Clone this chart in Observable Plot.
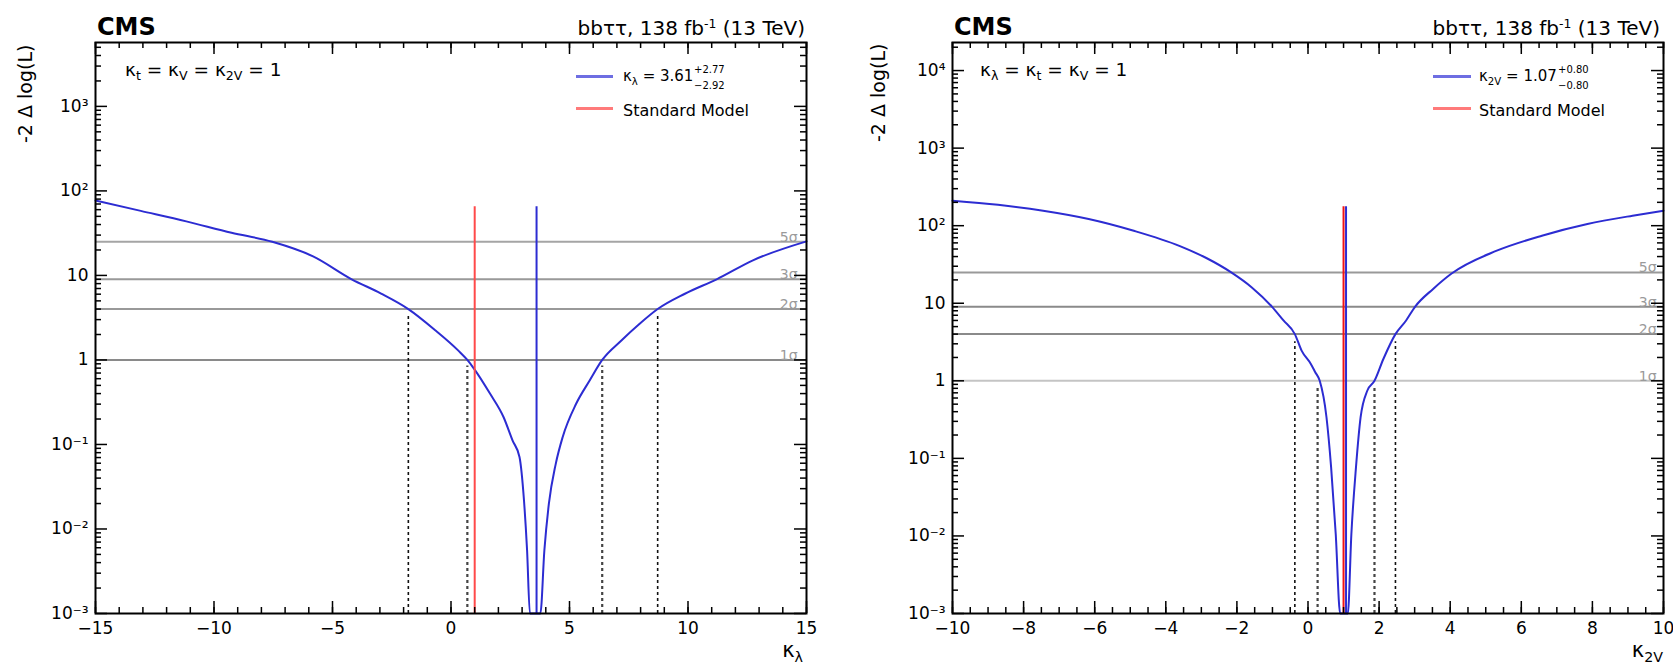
<!DOCTYPE html>
<html><head><meta charset="utf-8">
<script src="https://cdn.jsdelivr.net/npm/d3@7"></script>
<script src="https://cdn.jsdelivr.net/npm/@observablehq/plot@0.6"></script>
<style>
body{margin:0;background:#fff;}
#wrap{position:relative;width:1673px;height:669px;overflow:hidden;background:#fff;font-family:"DejaVu Sans",sans-serif;}
.panel{position:absolute;top:0;}
.ann{position:absolute;white-space:nowrap;color:#000;line-height:1;}
.lo{font-size:0.68em;position:relative;top:0.32em;}
.hi{font-size:0.62em;position:relative;top:-0.6em;}
.swatch{position:absolute;height:3px;}
</style></head>
<body><div id="wrap"></div>
<script>
// ---------- data ----------
const sigmaLevels = [1, 4, 9, 25];
const sigmaLabels = ["1σ", "2σ", "3σ", "5σ"];

// kappa_lambda scan
const klX = [-15, -13.09, -11.17, -9.26, -7.54, -5.82, -4.19, -2.95, -1.80, -0.65, 0.31, 0.69, 0.975, 1.645, 2.22, 2.60, 2.89, 3.08, 3.21, 3.33, 3.61, 3.77, 3.94, 4.13, 4.42, 4.71, 5.28, 5.85, 6.38, 7.19, 7.96, 8.72, 9.87, 11.21, 12.74, 15];
const klY = [77, 58, 43.6, 32, 25, 16.8, 9, 6.1, 4, 2.23, 1.29, 1.0, 0.785, 0.40, 0.21, 0.111, 0.071, 0.0217, 0.0056, 0.001, 0.00001, 0.001, 0.0056, 0.0199, 0.059, 0.122, 0.303, 0.571, 1.0, 1.70, 2.68, 4.0, 6.07, 9.0, 15.1, 25.3];
const klTicks = [-15, -10, -5, 0, 5, 10, 15];
const klTickLabels = ["−15", "−10", "−5", "0", "5", "10", "15"];
const klBestFit = 3.61, klSM = 1;
const klOneSigma = [0.69, 6.38], klTwoSigma = [-1.80, 8.72];

// kappa_2V scan
const k2vX = [-10, -8.72, -7.45, -6.17, -4.90, -3.62, -2.86, -2.16, -1.58, -1.01, -0.69, -0.37, -0.18, 0.08, 0.20, 0.33, 0.52, 0.65, 0.78, 0.905, 1.07, 1.12, 1.22, 1.35, 1.48, 1.67, 1.87, 2.12, 2.46, 2.76, 3.01, 3.52, 4.03, 5.31, 6.58, 7.86, 9.13, 10];
const k2vY = [210, 186, 156, 122, 86, 55, 38.3, 25, 16, 9, 6.0, 4.0, 2.45, 1.65, 1.3, 1.0, 0.339, 0.077, 0.0106, 0.001, 0.00001, 0.001, 0.0106, 0.077, 0.339, 0.75, 1.0, 1.91, 4.0, 6.0, 9.0, 15.3, 24, 47.6, 74.3, 105, 134.5, 156];
const k2vTicks = [-10, -8, -6, -4, -2, 0, 2, 4, 6, 8, 10];
const k2vTickLabels = ["−10", "−8", "−6", "−4", "−2", "0", "2", "4", "6", "8", "10"];
const k2vBestFit = 1.07, k2vSM = 1;
const k2vOneSigma = [0.27, 1.87], k2vTwoSigma = [-0.37, 2.46];

// y axes
const yTicksL = [1e-3, 1e-2, 1e-1, 1, 10, 100, 1000];
const yLabelsL = ["10⁻³", "10⁻²", "10⁻¹", "1", "10", "10²", "10³"];
const yTicksR = [1e-3, 1e-2, 1e-1, 1, 10, 100, 1000, 10000];
const yLabelsR = ["10⁻³", "10⁻²", "10⁻¹", "1", "10", "10²", "10³", "10⁴"];

// ---------- drawing ----------
const BLUE = "#2c2cd2";
const H = 669, MT = 42, MB = 56;

// ROOT-style inward ticks: lengths in pixels converted to data units through the scale extents
function tickMarks(o) {
  const fh = H - MT - MB, fw = o.width - o.marginLeft - o.marginRight;
  const [yMin, yMax] = o.yDomain, [xMin, xMax] = o.xDomain;
  const decPx = fh / Math.log10(yMax / yMin);
  const yUp = px => yMin * Math.pow(10, px / decPx);
  const yDown = px => yMax / Math.pow(10, px / decPx);
  const xPerPx = (xMax - xMin) / fw;
  const yMinor = [];
  o.yTicks.forEach(d => { for (let m = 2; m <= 9; m++) if (d * m < yMax) yMinor.push(d * m); });
  const xMinor = d3.range(xMin, xMax + 1e-9, o.xMinorStep);
  const tk = {stroke: "#000", strokeWidth: 1.5};
  return [
    Plot.ruleX(o.xTicks, {x: d => d, y1: yMin, y2: yUp(12), ...tk}),
    Plot.ruleX(xMinor, {x: d => d, y1: yMin, y2: yUp(6), ...tk}),
    Plot.ruleX(o.xTicks, {x: d => d, y1: yDown(12), y2: yMax, ...tk}),
    Plot.ruleX(xMinor, {x: d => d, y1: yDown(6), y2: yMax, ...tk}),
    Plot.ruleY(o.yTicks, {y: d => d, x1: xMin, x2: xMin + 12 * xPerPx, ...tk}),
    Plot.ruleY(yMinor, {y: d => d, x1: xMin, x2: xMin + 6 * xPerPx, ...tk}),
    Plot.ruleY(o.yTicks, {y: d => d, x1: xMax - 12 * xPerPx, x2: xMax, ...tk}),
    Plot.ruleY(yMinor, {y: d => d, x1: xMax - 6 * xPerPx, x2: xMax, ...tk})
  ];
}

function panel(o) {
  const rows = o.xs.map((x, i) => ({x, y: o.ys[i]}));
  const y0 = o.yDomain[0];
  const fmt = (ticks, labels) => d => labels[ticks.indexOf(d)];
  return Plot.plot({
    width: o.width, height: H,
    marginLeft: o.marginLeft, marginRight: o.marginRight, marginTop: MT, marginBottom: MB,
    style: {fontFamily: "'DejaVu Sans', sans-serif", fontSize: "17px", color: "#000", background: "transparent", overflow: "visible"},
    x: {domain: o.xDomain, label: null},
    y: {type: "log", domain: o.yDomain, label: null, clamp: true},
    marks: [
      Plot.ruleY(sigmaLevels, {y: d => d, stroke: (d, i) => o.sigmaStroke[i], strokeWidth: 2}),
      Plot.text(sigmaLevels, {y: d => d, text: (d, i) => sigmaLabels[i], frameAnchor: "right", textAnchor: "end", lineAnchor: "bottom", dx: o.sigmaDx, fill: "#9a9a9a", fontSize: 14}),
      Plot.ruleX(o.twoSigma, {x: d => d, y1: y0, y2: o.twoSigmaTop, stroke: "#111", strokeWidth: 1.6, strokeDasharray: "3,3"}),
      Plot.ruleX(o.oneSigma, {x: d => d, y1: y0, y2: o.oneSigmaTop, stroke: "#444", strokeWidth: 2.2, strokeDasharray: "3,3"}),
      Plot.line(rows, {x: "x", y: "y", stroke: BLUE, strokeWidth: 2, curve: "monotone-x"}),
      Plot.ruleX([o.bestFit], {x: d => d, y1: y0, y2: o.vTop, stroke: BLUE, strokeWidth: 2}),
      Plot.ruleX([o.sm], {x: d => d, y1: y0, y2: o.vTop, stroke: o.red, strokeWidth: 2}),
      Plot.axisX({anchor: "bottom", ticks: o.xTicks, tickSize: 0, tickPadding: 8, tickFormat: fmt(o.xTicks, o.xLabels), label: null}),
      Plot.axisY({anchor: "left", ticks: o.yTicks, tickSize: 0, tickPadding: 7, tickFormat: fmt(o.yTicks, o.yLabels), label: null}),
      ...tickMarks(o),
      Plot.frame({stroke: "#000", strokeWidth: 2})
    ]
  });
}

const wrap = document.getElementById("wrap");

const leftOpts = {
  xs: klX, ys: klY, xDomain: [-15, 15], yDomain: [1e-3, 5700], xTicks: klTicks, xLabels: klTickLabels, xMinorStep: 1,
  yTicks: yTicksL, yLabels: yLabelsL, width: 836, marginLeft: 95, marginRight: 30,
  bestFit: klBestFit, sm: klSM, vTop: 65, red: "#ff4a4a",
  oneSigma: klOneSigma, oneSigmaTop: 0.85, twoSigma: klTwoSigma, twoSigmaTop: 3.5,
  sigmaStroke: ["#8a8a8a", "#999", "#999", "#a5a5a5"], sigmaDx: -9
};
const rightOpts = {
  xs: k2vX, ys: k2vY, xDomain: [-10, 10], yDomain: [1e-3, 23000], xTicks: k2vTicks, xLabels: k2vTickLabels, xMinorStep: 0.5,
  yTicks: yTicksR, yLabels: yLabelsR, width: 837, marginLeft: 116, marginRight: 10,
  bestFit: k2vBestFit, sm: k2vSM, vTop: 176, red: "#f01414",
  oneSigma: k2vOneSigma, oneSigmaTop: 0.87, twoSigma: k2vTwoSigma, twoSigmaTop: 3.2,
  sigmaStroke: ["#c4c4c4", "#8a8a8a", "#8a8a8a", "#999"], sigmaDx: -7
};

[[leftOpts, 0], [rightOpts, 836]].forEach(([o, x]) => {
  const p = panel(o);
  p.classList.add("panel"); p.style.left = x + "px";
  wrap.appendChild(p);
});

// ---------- annotations ----------
function addText(html, x, baseline, fs, opt = {}) {
  const d = document.createElement("div");
  d.className = "ann";
  d.innerHTML = html;
  d.style.fontSize = fs + "px";
  d.style.top = (baseline - 0.84 * fs) + "px";
  if (opt.anchor === "end") d.style.right = (1673 - x) + "px"; else d.style.left = x + "px";
  if (opt.bold) d.style.fontWeight = "bold";
  wrap.appendChild(d);
  return d;
}
function addSwatch(x1, x2, y, color) {
  const d = document.createElement("div");
  d.className = "swatch";
  d.style.left = x1 + "px"; d.style.width = (x2 - x1) + "px";
  d.style.top = (y - 1.5) + "px"; d.style.background = color;
  wrap.appendChild(d);
}
function addYTitle(text, cx, topEnd, fs) {
  const d = document.createElement("div");
  d.className = "ann";
  d.textContent = text;
  d.style.fontSize = fs + "px";
  wrap.appendChild(d);
  const w = d.offsetWidth, h = d.offsetHeight;
  d.style.transformOrigin = "0 0";
  d.style.transform = "rotate(-90deg)";
  d.style.left = (cx - h / 2) + "px";
  d.style.top = (topEnd + w) + "px";
}
function addFitEntry(mainHtml, x, baseline, fs, up, down) {
  const d = addText(mainHtml, x, baseline, fs);
  const xr = x + d.offsetWidth + 1;
  addText(up, xr, baseline - 9, 10);
  addText(down, xr, baseline + 7, 10);
}

const lumi = 'bbττ, 138 fb<span class="hi">-1</span> (13 TeV)';
// left panel
addText("CMS", 97, 35, 24, {bold: true});
addText(lumi, 805, 35, 20, {anchor: "end"});
addText('κ<span class="lo">t</span> = κ<span class="lo">V</span> = κ<span class="lo">2V</span> = 1', 125, 77, 18.5);
addSwatch(576, 613, 76, "#6e6ee2");
addFitEntry('κ<span class="lo">λ</span> = 3.61', 623, 82, 15, "+2.77", "−2.92");
addSwatch(576, 613, 108, "#ff7a7a");
addText("Standard Model", 623, 116, 16);
addYTitle("-2 Δ log(L)", 25, 45, 19);
addText('κ<span class="lo">λ</span>', 803, 658, 21, {anchor: "end"});

// right panel
addText("CMS", 954, 35, 24, {bold: true});
addText(lumi, 1660, 35, 20, {anchor: "end"});
addText('κ<span class="lo">λ</span> = κ<span class="lo">t</span> = κ<span class="lo">V</span> = 1', 980, 77, 18.5);
addSwatch(1433, 1471, 76, "#6e6ee2");
addFitEntry('κ<span class="lo">2V</span> = 1.07', 1479, 82, 15, "+0.80", "−0.80");
addSwatch(1433, 1471, 108, "#ff7a7a");
addText("Standard Model", 1479, 116, 16);
addYTitle("-2 Δ log(L)", 878, 44, 19);
addText('κ<span class="lo">2V</span>', 1663, 658, 21, {anchor: "end"});
</script>
</body></html>
